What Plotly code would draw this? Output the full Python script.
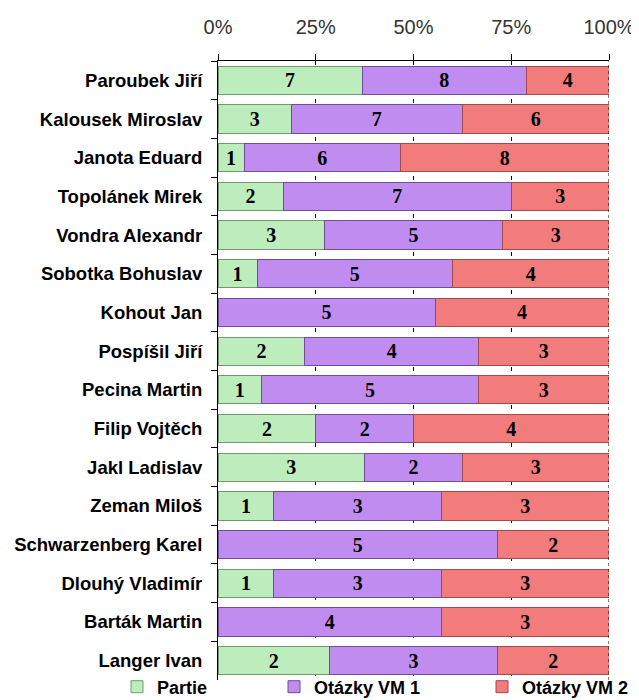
import plotly.graph_objects as go

jmena = ["Paroubek Jiří", "Kalousek Miroslav", "Janota Eduard", "Topolánek Mirek",
         "Vondra Alexandr", "Sobotka Bohuslav", "Kohout Jan", "Pospíšil Jiří",
         "Pecina Martin", "Filip Vojtěch", "Jakl Ladislav", "Zeman Miloš",
         "Schwarzenberg Karel", "Dlouhý Vladimír", "Barták Martin", "Langer Ivan"]
partie = [7, 3, 1, 2, 3, 1, 0, 2, 1, 2, 3, 1, 0, 1, 0, 2]
vm1 = [8, 7, 6, 7, 5, 5, 5, 4, 5, 2, 2, 3, 5, 3, 4, 3]
vm2 = [4, 6, 8, 3, 3, 4, 4, 3, 3, 4, 3, 3, 2, 3, 3, 2]
osa_ticks = [0, 25, 50, 75, 100]
osa_popisky = ["0%", "25%", "50%", "75%", "100%"]

serie = [
    ("Partie", partie, "#bdecbd", "#6f9a6f", "legend", 117),
    ("Otázky VM 1", vm1, "#c08cf0", "#6e4e96", "legend2", 274),
    ("Otázky VM 2", vm2, "#f27c7c", "#a04a4a", "legend3", 482),
]

# the page body adds 8px around the figure, so work in page pixels minus 8
OFF = 8
W, H = 639 - OFF, 700 - OFF
ml, mt = 218 - OFF, 61 - OFF
mr, mb = 639 - 609, 700 - 672 - OFF
radek = (672 - 61) / len(jmena)

fig = go.Figure()
legendy = {}
for nazev, hodnoty, barva, okraj, leg, lx in serie:
    fig.add_trace(go.Bar(
        name=nazev, y=jmena, x=hodnoty, orientation="h", legend=leg,
        text=[str(v) if v else "" for v in hodnoty],
        textposition="inside", insidetextanchor="middle", textangle=0,
        constraintext="none",
        textfont=dict(family="Liberation Serif", size=20, color="black", weight="bold"),
        marker=dict(color=barva, line=dict(color=okraj, width=1)),
        hoverinfo="skip",
    ))
    legendy[leg] = dict(
        orientation="h", xref="container", yref="container",
        x=(lx - OFF) / W, xanchor="left", y=1 - (687 - OFF) / H, yanchor="middle",
        font=dict(family="Liberation Sans", size=18, color="black", weight="bold"),
        itemwidth=30, bgcolor="rgba(0,0,0,0)",
    )

fig.add_shape(type="line", xref="x", yref="paper", x0=100, x1=100, y0=0, y1=1,
              line=dict(color="black", width=1, dash="dot"))

fig.update_layout(
    width=W, height=H,
    barmode="stack", barnorm="percent", bargap=0.27,
    plot_bgcolor="white", paper_bgcolor="white",
    margin=dict(l=ml, r=mr, t=mt, b=mb, autoexpand=False),
    showlegend=True,
    uniformtext=dict(minsize=10, mode="show"),
    **legendy,
)
fig.update_xaxes(
    side="top", range=[0, 100], tickvals=osa_ticks, ticktext=osa_popisky,
    showgrid=True, gridcolor="black", gridwidth=1,
    griddash=f"4px,{radek - 4:.4f}px",
    zeroline=False, showline=True, linecolor="black",
    ticks="outside", ticklen=6, tickcolor="black", ticklabelstandoff=12,
    tickfont=dict(family="Liberation Sans", size=20, color="#333"),
)
fig.update_yaxes(
    autorange="reversed", showgrid=False, showline=True, linecolor="black",
    ticks="outside", tickson="boundaries", ticklen=6, tickcolor="black",
    tickfont=dict(family="Liberation Sans", size=18.5, color="black", weight="bold"),
    ticklabelstandoff=11,
)

fig.write_html("out.html")
